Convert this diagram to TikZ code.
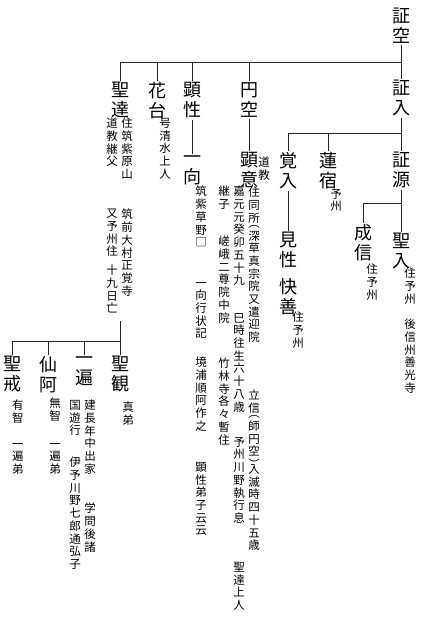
\documentclass[tikz,border=0pt]{standalone}
\usepackage{fontspec}
\newfontfamily\cjk{Noto Sans CJK JP}
\newdimen\vtpitch
\makeatletter
\def\vt@stop{\vt@stop}
\def\sk{\sk}
\newcommand\vt[1]{\vbox{\baselineskip=\vtpitch\lineskiplimit=-\maxdimen\lineskip=0pt\vt@loop#1\vt@stop}}
\def\vt@loop#1{\ifx#1\vt@stop\else\ifx#1\sk\vskip-0.6\vtpitch\else\hbox to 1em{\hss#1\hss}\fi\expandafter\vt@loop\fi}
\makeatother
\newcommand\bigf{\cjk\fontsize{18pt}{20pt}\selectfont\vtpitch=20pt\relax}
\newcommand\smf{\cjk\fontsize{11.5pt}{12.7pt}\selectfont\vtpitch=12.7pt\relax}
\tikzset{
  big/.style={font=\bigf, inner sep=0pt, outer sep=1.5pt, anchor=north},
  sm/.style={font=\smf, inner sep=0pt, anchor=north},
  ln/.style={line width=0.7pt, draw=black!85}
}
\begin{document}
\begin{tikzpicture}[x=1pt,y=-1pt]
\useasboundingbox[fill=white] (0,0) rectangle (428,640);
% main names
\node[big] (shokuu) at (401,7) {\vt{証空}};
\node[big] (shonyu) at (401,79) {\vt{証入}};
\node[big] (shogen) at (401,151) {\vt{証源}};
\node[big] (renshuku) at (328,151) {\vt{蓮宿}};
\node[big] (kakunyu) at (288,151) {\vt{覚入}};
\node[big] (kensho2) at (288,231) {\vt{見性}};
\node[big] (kaizen) at (288,277) {\vt{快善}};
\node[big] (seinyu) at (401,232) {\vt{聖入}};
\node[big] (joshin) at (363,223) {\vt{成信}};
\node[big] (shotatsu) at (120,81) {\vt{聖達}};
\node[big] (katai) at (157,81) {\vt{花台}};
\node[big] (kensho) at (192,81) {\vt{顕性}};
\node[big] (enku) at (249,81) {\vt{円空}};
\node[big] (ikko) at (192,154) {\vt{一向}};
\node[big] (kenI) at (249,151) {\vt{顕意}};
\node[big] (shokan) at (120,355) {\vt{聖観}};
\node[big] (ippen) at (84,355) {\vt{一遍}};
\node[big] (sena) at (48,355) {\vt{仙阿}};
\node[big] (shokai) at (12,355) {\vt{聖戒}};
% annotations
\node[sm] (rA) at (336,189) {\vt{予州}};
\node[sm] (kzA) at (298,312) {\vt{住予州}};
\node[sm] (jsA) at (372,264) {\vt{住予州}};
\node[sm] (snA) at (410,268) {\vt{住予州}};
\node[sm] (snB) at (410,319) {\vt{後信州善光寺}};
\node[sm] (stA) at (127,118) {\vt{住筑紫原山}};
\node[sm] (stB) at (127,209) {\vt{筑前大村正覚寺}};
\node[sm] (stC) at (112,118) {\vt{道教継父}};
\node[sm] (stD) at (112,209) {\vt{又予州住}};
\node[sm] (stE) at (112,265) {\vt{十九日亡}};
\node[sm] (ktA) at (165,118) {\vt{号清水上人}};
\node[sm] (ikA) at (201,186) {\vt{筑紫草野□}};
\node[sm] (ikB) at (201,282) {\vt{一向行状記}};
\node[sm] (ikC) at (201,357) {\vt{境浦順阿作之}};
\node[sm] (ikD) at (201,462) {\vt{顕性弟子云云}};
\node[sm] (kiA) at (264,157) {\vt{道教}};
\node[sm] (kiB) at (254,187) {\vt{住同所\sk ︵深草真宗院又遣迎院}};
\node[sm] (kiC) at (254,390) {\vt{立信\sk ︵師円空︶\sk 入滅時四十五歳}};
\node[sm] (kiD) at (239,186) {\vt{嘉元元癸卯五十九}};
\node[sm] (kiE) at (239,313) {\vt{巳時往生六十八歳}};
\node[sm] (kiF) at (239,437) {\vt{予州川野執行息}};
\node[sm] (kiG) at (239,562) {\vt{聖達上人}};
\node[sm] (kiH) at (224,186) {\vt{継子}};
\node[sm] (kiI) at (224,236) {\vt{嵯峨二尊院中院}};
\node[sm] (kiJ) at (224,358) {\vt{竹林寺各々暫住}};
\node[sm] (skA) at (128,402) {\vt{真弟}};
\node[sm] (ipA) at (90,400) {\vt{建長年中出家}};
\node[sm] (ipB) at (90,503) {\vt{学問後諸}};
\node[sm] (ipC) at (75,400) {\vt{国遊行}};
\node[sm] (ipD) at (75,457) {\vt{伊予川野七郎通弘子}};
\node[sm] (seA) at (55,398) {\vt{無智}};
\node[sm] (seB) at (55,443) {\vt{一遍弟}};
\node[sm] (shA) at (18,400) {\vt{有智}};
\node[sm] (shB) at (18,443) {\vt{一遍弟}};
% connectors
\coordinate (b1) at (401,62);
\coordinate (b2) at (401,133);
\coordinate (b3) at (401,203);
\coordinate (b4) at (120,341);
\coordinate (tatsuEnd) at (120,321);
\draw[ln] (shokuu.south) -- (shonyu.north);
\draw[ln] (shotatsu.north) |- (b1);
\draw[ln] (katai.north) |- (b1);
\draw[ln] (kensho.north) |- (b1);
\draw[ln] (enku.north) |- (b1);
\draw[ln] (shonyu.south) -- (shogen.north);
\draw[ln] (kakunyu.north) |- (b2);
\draw[ln] (renshuku.north) |- (b2);
\draw[ln] (shogen.south) -- (seinyu.north);
\draw[ln] (joshin.north) |- (b3);
\draw[ln] (kakunyu.south) -- (kensho2.north);
\draw[ln] (kensho.south) -- (ikko.north);
\draw[ln] (enku.south) -- (kenI.north);
\draw[ln] (tatsuEnd) -- (shokan.north);
\draw[ln] (ippen.north) |- (b4);
\draw[ln] (sena.north) |- (b4);
\draw[ln] (shokai.north) |- (b4);
\end{tikzpicture}
\end{document}
